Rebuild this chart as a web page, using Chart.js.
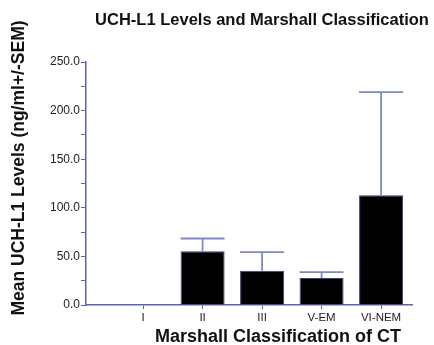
<!DOCTYPE html>
<html>
<head>
<meta charset="utf-8">
<script src="https://cdn.jsdelivr.net/npm/chart.js@4/dist/chart.umd.min.js"></script>
<style>
  html, body { margin: 0; padding: 0; background: #fff; }
  #wrap { width: 434px; height: 345px; position: relative; }
</style>
</head>
<body>
<div id="wrap"><canvas id="c" width="434" height="345"></canvas></div>
<script>
// Marshall CT classes and mean UCH-L1 (ng/ml) with SEM
const categories = ['I', 'II', 'III', 'V-EM', 'VI-NEM'];
const positions = [1, 2, 3, 4, 5];
const meanLevels = [null, 55.4, 35.2, 27.7, 113];
const semLevels = [null, 13, 19.2, 6.2, 106];
const yTicks = [0, 50, 100, 150, 200, 250];

const AXIS = '#5c63b0';
const FONT = "'Liberation Sans', Arial, sans-serif";

// Upper SEM whiskers drawn through the chart's own scales
const errorBars = {
  id: 'errorBars',
  afterDatasetsDraw(chart) {
    const { ctx, scales: { x, y } } = chart;
    const meta = chart.getDatasetMeta(0);
    ctx.save();
    ctx.strokeStyle = '#8088c4';
    ctx.lineWidth = 1.8;
    meanLevels.forEach((m, i) => {
      if (m == null || semLevels[i] == null) return;
      const bar = meta.data[i];
      const half = bar.width / 2;
      const cx = x.getPixelForValue(positions[i]);
      const yTop = y.getPixelForValue(m);
      const yErr = y.getPixelForValue(m + semLevels[i]);
      ctx.beginPath();
      ctx.moveTo(cx, yTop);
      ctx.lineTo(cx, yErr);
      ctx.moveTo(cx - half, yErr);
      ctx.lineTo(cx + half, yErr);
      ctx.stroke();
    });
    ctx.restore();
  }
};

// Heading and axis captions
const captions = {
  id: 'captions',
  afterDraw(chart) {
    const ctx = chart.ctx;
    ctx.save();
    ctx.fillStyle = '#111';
    ctx.textAlign = 'center';
    ctx.textBaseline = 'middle';
    ctx.font = 'bold 16.5px ' + FONT;
    ctx.fillText('UCH-L1 Levels and Marshall Classification', 262, 20);
    ctx.font = 'bold 18px ' + FONT;
    ctx.fillText('Marshall Classification of CT', 278, 337);
    ctx.translate(19, 168);
    ctx.rotate(-Math.PI / 2);
    ctx.font = 'bold 17.5px ' + FONT;
    ctx.fillText('Mean UCH-L1 Levels (ng/ml+/-SEM)', 0, 0);
    ctx.restore();
  }
};

new Chart(document.getElementById('c'), {
  type: 'bar',
  data: {
    datasets: [{
      data: positions.map((p, i) => ({ x: p, y: meanLevels[i] })),
      backgroundColor: '#000',
      borderColor: '#3a3f80',
      borderWidth: 1,
      categoryPercentage: 1,
      barPercentage: 0.74
    }]
  },
  options: {
    responsive: false,
    animation: false,
    layout: { padding: { top: 62, right: 22, bottom: 0, left: 0 } },
    plugins: { legend: { display: false }, tooltip: { enabled: false } },
    scales: {
      x: {
        type: 'linear',
        offset: false,
        min: 0.04,
        max: 5.52,
        afterBuildTicks: s => { s.ticks = positions.map(v => ({ value: v })); },
        afterFit: s => { s.height = 40; },
        ticks: {
          callback: v => categories[positions.indexOf(v)] ?? '',
          color: '#222',
          font: { family: FONT, size: 11.5 },
          padding: 2,
          maxRotation: 0,
          autoSkip: false
        },
        grid: { drawOnChartArea: false, drawTicks: true, tickLength: 4, color: AXIS, lineWidth: 1, offset: false },
        border: { color: AXIS, width: 1.5 }
      },
      y: {
        min: 0,
        max: 250,
        afterBuildTicks: s => {
          const t = [];
          for (let v = 0; v <= 250; v += 25) t.push({ value: v });
          s.ticks = t;
        },
        afterFit: s => { s.width = 86; },
        ticks: {
          callback: v => yTicks.includes(v) ? v.toFixed(1) : '',
          color: '#222',
          font: { family: FONT, size: 12 },
          padding: 1,
          autoSkip: false
        },
        grid: { drawOnChartArea: false, drawTicks: true, tickLength: 5, color: AXIS, lineWidth: 1 },
        border: { color: AXIS, width: 1.5 }
      }
    }
  },
  plugins: [errorBars, captions]
});
</script>
</body>
</html>
